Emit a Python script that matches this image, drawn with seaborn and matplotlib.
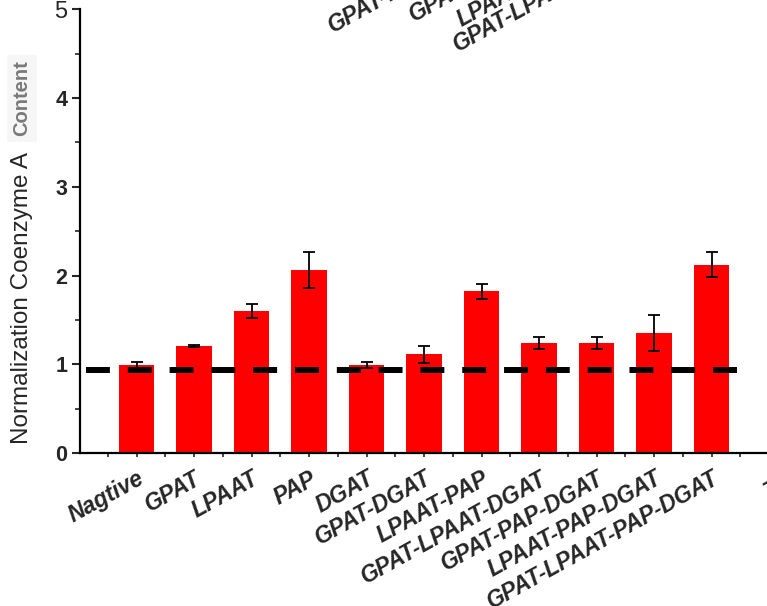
import matplotlib
matplotlib.use("Agg")
import matplotlib.pyplot as plt
import seaborn as sns
import numpy as np
from matplotlib.ticker import MultipleLocator, FixedLocator

sns.set_style("white")
plt.rcParams['font.family'] = ['Liberation Sans', 'DejaVu Sans']

# ---- data ----
categories = ["Nagtive", "GPAT", "LPAAT", "PAP", "DGAT", "GPAT-DGAT",
              "LPAAT-PAP", "GPAT-LPAAT-DGAT", "GPAT-PAP-DGAT",
              "LPAAT-PAP-DGAT", "GPAT-LPAAT-PAP-DGAT"]
values = [0.99, 1.21, 1.60, 2.06, 0.99, 1.11, 1.82, 1.24, 1.24, 1.35, 2.12]
errors = [0.04, 0.01, 0.08, 0.20, 0.03, 0.10, 0.08, 0.07, 0.07, 0.20, 0.14]
extra_tick_label = "--"
baseline_value = 0.93
baseline_span = [-0.88, 10.5]
ytick_values = [0, 1, 2, 3, 4, 5]
ytick_labels = ["0", "1", "2", "3", "4", "5"]
top_cut_labels = ["GPAT-DGAT", "GPAT-PAP-DGAT", "LPAAT-PAP", "GPAT-LPAAT-DGAT"]

fig = plt.figure(figsize=(7.67, 6.06), dpi=100)
ax = fig.add_axes([80 / 767, 153 / 606, 13 * 57.5 / 767, 5 * 88.75 / 606])

sns.barplot(x=categories, y=values, color="#ff0000", saturation=1,
            width=0.61, errorbar=None, ax=ax, linewidth=0)
ax.errorbar(np.arange(len(values)), values, yerr=errors, fmt="none",
            ecolor="black", elinewidth=1.3, capsize=4.3, capthick=1.3, zorder=3)
ax.plot(baseline_span, [baseline_value, baseline_value], color="black",
        lw=4.3, ls=(0, (4.0, 3.0)), solid_capstyle="butt",
        dash_capstyle="butt", zorder=4)

ax.set_xlim(-0.983, -0.983 + 13)
ax.set_ylim(0, 5)
ax.set_xlabel("")
ax.set_ylabel("")

for s in ["top", "right"]:
    ax.spines[s].set_visible(False)
for s in ["left", "bottom"]:
    ax.spines[s].set_linewidth(1.6)
    ax.spines[s].set_color("black")

# y axis ticks
ax.set_yticks(ytick_values)
ax.set_yticklabels(ytick_labels, fontsize=15.5, fontweight="bold")
ax.get_yticklabels()[-1].set_fontweight("normal")
ax.get_yticklabels()[-1].set_fontsize(17)
ax.yaxis.set_minor_locator(MultipleLocator(0.5))
ax.tick_params(axis="y", which="major", direction="out", length=6, width=1.5, pad=3, left=True)
ax.tick_params(axis="y", which="minor", direction="out", length=3.5, width=1.2, left=True)

# x axis ticks
xt = list(range(len(categories) + 1))
ax.set_xticks(xt)
ax.set_xticklabels(categories + [extra_tick_label], rotation=29, ha="right",
                   rotation_mode="anchor", fontsize=16.5, fontweight="bold",
                   fontstyle="italic")
ax.xaxis.set_minor_locator(FixedLocator(np.arange(-0.5, len(categories) + 1, 1.0)))
ax.tick_params(axis="x", which="major", direction="out", length=3, width=1.2, pad=7, bottom=True)
ax.tick_params(axis="x", which="minor", direction="out", length=3, width=1.2, bottom=True)

# y label (two parts)
fig.text(22 / 767, 1 - 444 / 606, "Normalization Coenzyme A", rotation=90,
         ha="center", va="bottom", fontsize=17.5)
fig.text(22 / 767, 1 - 136 / 606, "Content", rotation=90, ha="center",
         va="bottom", fontsize=14.5, fontweight="bold", color="#7a7a7a",
         bbox=dict(facecolor="#f6f6f6", edgecolor="none", pad=4))

# labels of a chart above, cut off by the top edge
cut_pos = [(333, 33), (414, 22), (462, 27), (458, 52)]
for lab, (px, py) in zip(top_cut_labels, cut_pos):
    fig.text(px / 767, 1 - py / 606, lab, rotation=29, rotation_mode="anchor",
             ha="left", va="baseline", fontsize=16.5, fontweight="bold",
             fontstyle="italic")

fig.savefig("out.png", dpi=100)
